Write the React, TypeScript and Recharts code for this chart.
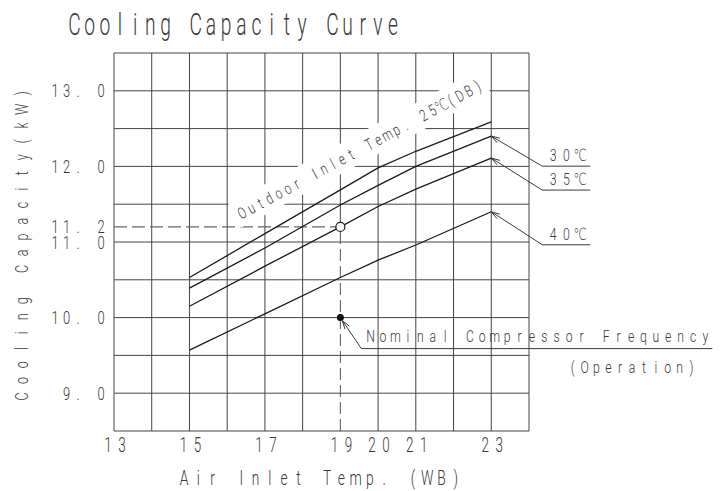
import {
  LineChart,
  Line,
  XAxis,
  YAxis,
  CartesianGrid,
  ReferenceLine,
  ReferenceDot,
} from "recharts";

// air inlet wet bulb temps where the curves are read
const inletTemps = [15, 17, 19, 20, 21, 23];

// cooling capacity (kW) per outdoor inlet temp
const cap25 = [10.53, 11.11, 11.69, 11.98, 12.2, 12.59];
const cap30 = [10.39, 10.92, 11.49, 11.75, 12.0, 12.4];
const cap35 = [10.15, 10.68, 11.2, 11.47, 11.7, 12.11];
const cap40 = [9.57, 10.05, 10.53, 10.76, 10.96, 11.4];

const xTicks = [13, 15, 17, 19, 20, 21, 23];
const yTicks = [9, 10, 11, 11.2, 12, 13];
const xGrid = [13, 14, 15, 16, 17, 18, 20, 21, 22, 23, 24];
const yGrid = [8.5, 9, 9.5, 10, 10.5, 11, 11.5, 12, 12.5, 13, 13.5];

const nominalTemp = 19;
const nominalCap = 11.2;
const nominalFreqCap = 10.0;

const curveLabels = ["30℃", "35℃", "40℃"];

const data = inletTemps.map((t, i) => ({
  t,
  c25: cap25[i],
  c30: cap30[i],
  c35: cap35[i],
  c40: cap40[i],
}));

const FONT = "Roboto, 'DejaVu Sans', sans-serif";
const INK = "#3a3a3a";
const LINE = "#1a1a1a";

// CAD-style text: every character centred in a fixed-pitch cell
function Mono({
  x,
  y,
  text,
  pitch,
  size,
  anchor = "start",
  sx = 0.72,
}: {
  x: number;
  y: number;
  text: string;
  pitch: number;
  size: number;
  anchor?: "start" | "middle" | "end";
  sx?: number;
}) {
  const chars = Array.from(text);
  const n = chars.length;
  const left = anchor === "start" ? 0 : anchor === "middle" ? -(pitch * n) / 2 : -pitch * n;
  const xs = chars.map((_, i) => ((left + pitch * (i + 0.5)) / sx).toFixed(2));
  return (
    <g transform={`translate(${x},${y}) scale(${sx},1)`}>
      <text
        x={xs.join(" ")}
        y={0}
        textAnchor="middle"
        fontFamily={FONT}
        fontWeight={300}
        fontSize={size}
        fill={INK}
      >
        {text}
      </text>
    </g>
  );
}

function arrowPath(tx: number, ty: number, fx: number, fy: number, len = 9) {
  const a = Math.atan2(fy - ty, fx - tx);
  const s = 0.3;
  const p1 = [tx + len * Math.cos(a + s), ty + len * Math.sin(a + s)];
  const p2 = [tx + len * Math.cos(a - s), ty + len * Math.sin(a - s)];
  return `M${p1[0]},${p1[1]} L${tx},${ty} L${p2[0]},${p2[1]}`;
}

const XTick = (props: any) => {
  const { x, y, payload } = props;
  return (
    <Mono x={x + 1} y={y + 13} text={String(payload.value)} pitch={14} size={21} anchor="middle" sx={0.64} />
  );
};

const YTick = (props: any) => {
  const { y, payload } = props;
  const v: number = payload.value;
  const [a, b] = v.toFixed(1).split(".");
  return <Mono x={106.75} y={y + 6.5} text={`${a}. ${b}`} pitch={11.5} size={18} anchor="end" />;
};

const curveTag = (label: string, drop: number) => (props: any) => {
  const { cx, cy } = props;
  const kx = cx + 51;
  const ky = cy + drop;
  return (
    <g>
      <polyline
        points={`${cx},${cy} ${kx},${ky} ${cx + 99},${ky}`}
        fill="none"
        stroke={INK}
        strokeWidth={1}
      />
      <path d={arrowPath(cx, cy, kx, ky)} fill="none" stroke={INK} strokeWidth={1} />
      <Mono x={cx + 55} y={ky - 5} text={label} pitch={13.5} size={17} />
    </g>
  );
};

const NominalTag = (props: any) => {
  const { cx, cy } = props;
  const kx = cx + 21;
  const ky = cy + 31;
  return (
    <g>
      <circle cx={cx} cy={cy} r={3.5} fill="#111" />
      <polyline
        points={`${cx + 2},${cy + 3} ${kx},${ky} ${cx + 372},${ky}`}
        fill="none"
        stroke={INK}
        strokeWidth={1}
      />
      <path d={arrowPath(cx + 2, cy + 3, kx, ky)} fill="none" stroke={INK} strokeWidth={1} />
      <Mono x={cx + 24.1} y={cy + 24} text="Nominal Compressor Frequency" pitch={12.4} size={17} />
      <Mono x={cx + 226.4} y={cy + 55} text="(Operation)" pitch={11.87} size={17} />
    </g>
  );
};

export default function App() {
  return (
    <div
      style={{
        position: "absolute",
        left: 0,
        top: 0,
        width: 721,
        height: 491,
        background: "#fff",
      }}
    >
      <LineChart
        width={721}
        height={491}
        data={data}
        margin={{ top: 53, right: 192, bottom: 0, left: 0 }}
      >
        <CartesianGrid
          stroke="#444"
          strokeWidth={1}
          horizontalValues={yGrid}
          verticalValues={xGrid}
        />
        <XAxis
          dataKey="t"
          type="number"
          domain={[13, 24]}
          ticks={xTicks}
          interval={0}
          axisLine={false}
          tickLine={false}
          height={60}
          tick={<XTick />}
        />
        <YAxis
          type="number"
          domain={[8.5, 13.5]}
          ticks={yTicks}
          interval={0}
          axisLine={false}
          tickLine={false}
          width={114}
          tick={<YTick />}
        />
        <ReferenceLine
          segment={[
            { x: nominalTemp, y: nominalCap },
            { x: nominalTemp, y: 13.5 },
          ]}
          stroke="#444"
          strokeWidth={1}
        />
        <ReferenceLine
          segment={[
            { x: nominalTemp, y: 8.5 },
            { x: nominalTemp, y: nominalCap },
          ]}
          stroke="#555"
          strokeWidth={1}
          strokeDasharray="12 5"
        />
        <ReferenceLine
          segment={[
            { x: 13, y: nominalCap },
            { x: nominalTemp, y: nominalCap },
          ]}
          stroke="#666"
          strokeWidth={1.2}
          strokeDasharray="13 5"
        />
        <Line dataKey="c25" type="linear" stroke={LINE} strokeWidth={1.3} dot={false} isAnimationActive={false} />
        <Line dataKey="c30" type="linear" stroke={LINE} strokeWidth={1.3} dot={false} isAnimationActive={false} />
        <Line dataKey="c35" type="linear" stroke={LINE} strokeWidth={1.3} dot={false} isAnimationActive={false} />
        <Line dataKey="c40" type="linear" stroke={LINE} strokeWidth={1.3} dot={false} isAnimationActive={false} />
        <ReferenceDot
          x={nominalTemp}
          y={nominalCap}
          r={4.5}
          fill="#fff"
          stroke={LINE}
          strokeWidth={1.2}
        />
        <ReferenceDot x={nominalTemp} y={nominalFreqCap} shape={NominalTag} />
        <ReferenceDot x={23} y={cap30[5]} shape={curveTag(curveLabels[0], 30)} />
        <ReferenceDot x={23} y={cap35[5]} shape={curveTag(curveLabels[1], 32)} />
        <ReferenceDot x={23} y={cap40[5]} shape={curveTag(curveLabels[2], 33)} />
      </LineChart>
      <svg
        width={721}
        height={491}
        style={{ position: "absolute", left: 0, top: 0, pointerEvents: "none" }}
      >
        <Mono x={66.9} y={35} text="Cooling Capacity Curve" pitch={15.17} size={31} sx={0.62} />
        <Mono x={176.9} y={485} text="Air Inlet Temp. (WB)" pitch={14.3} size={21} sx={0.66} />
        <g transform="translate(28,245) rotate(-90)">
          <Mono x={0} y={0} text="Cooling Capacity(kW)" pitch={15.95} size={19} anchor="middle" sx={0.66} />
        </g>
        <g transform="translate(360,149.5) rotate(-28.3)">
          <rect x={-142} y={-14.5} width={284} height={27} fill="#fff" />
          <Mono x={0} y={5.5} text="Outdoor Inlet Temp. 25℃(DB)" pitch={10.3} size={16} anchor="middle" />
        </g>
      </svg>
    </div>
  );
}
